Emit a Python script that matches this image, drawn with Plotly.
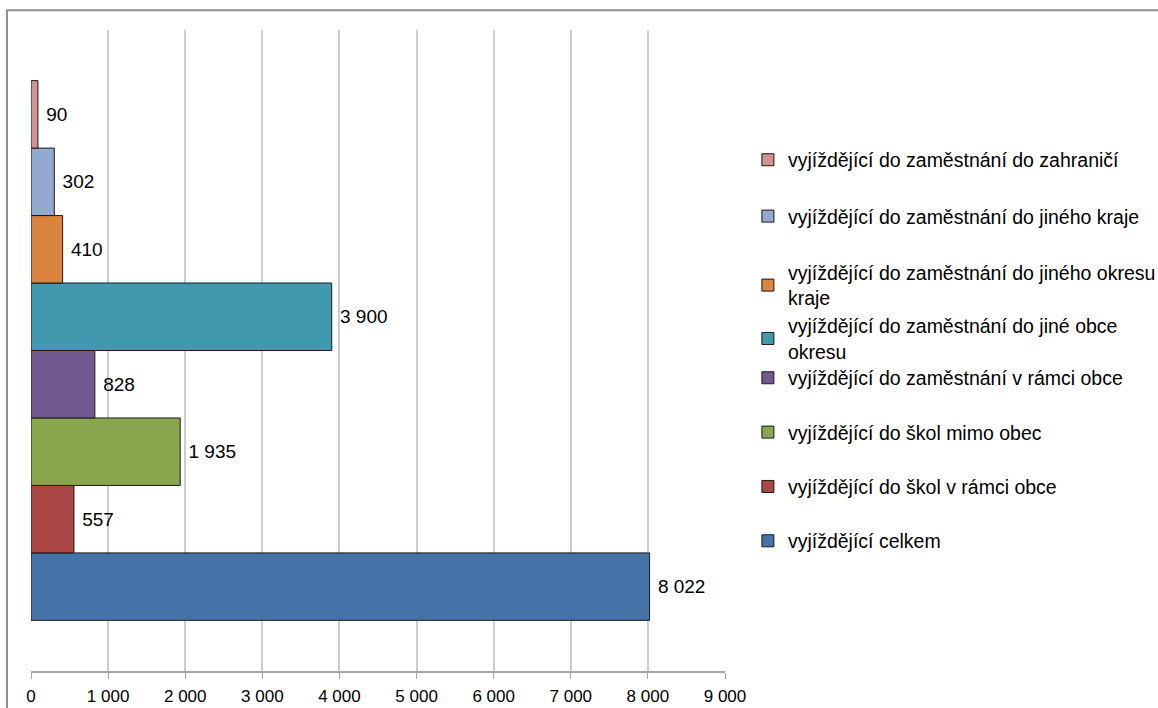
import plotly.graph_objects as go

# poradi odspodu nahoru (jak jdou sloupce v grafu)
series_names = [
    "vyjíždějící celkem",
    "vyjíždějící do škol v rámci obce",
    "vyjíždějící do škol mimo obec",
    "vyjíždějící do zaměstnání v rámci obce",
    "vyjíždějící do zaměstnání do jiné obce<br>okresu",
    "vyjíždějící do zaměstnání do jiného okresu<br>kraje",
    "vyjíždějící do zaměstnání do jiného kraje",
    "vyjíždějící do zaměstnání do zahraničí",
]
series_values = [8022, 557, 1935, 828, 3900, 410, 302, 90]
series_colors = ["#4572A7", "#AA4643", "#89A54E", "#71588F",
                 "#4198AF", "#DB843D", "#93A9CF", "#D19392"]
category = [""]
x_ticks = [0, 1000, 2000, 3000, 4000, 5000, 6000, 7000, 8000, 9000]

# ktera legenda patri ke ktere rade (kvuli rozestupum jako v Excelu)
legend_of = ["legend3", "legend3", "legend3", "legend3",
             "legend2", "legend", "legend", "legend"]

fig = go.Figure()

for i, (name, val, col) in enumerate(zip(series_names, series_values, series_colors)):
    fig.add_trace(go.Bar(
        x=[val],
        y=category,
        orientation='h',
        name=name,
        legend=legend_of[i],
        legendgroup=f"g{i}",
        legendrank=10 * (8 - i),
        marker=dict(color=col, line=dict(color='#1a1a1a', width=1)),
        text=[val],
        texttemplate=' %{x:,}',
        textposition='outside',
        textfont=dict(color='black', size=19),
        cliponaxis=False,
    ))

# ramecek kolem celeho grafu
fig.add_shape(type='rect', xref='paper', yref='paper',
              x0=-0.0346, y0=-0.08, x1=1.66, y1=1.031,
              line=dict(color='#8f8f8f', width=2), fillcolor='rgba(0,0,0,0)')

legend_style = dict(
    x=1.033, xanchor='left', yanchor='top',
    traceorder='grouped',
    font=dict(size=19.5),
    itemwidth=30,
    bgcolor='rgba(0,0,0,0)',
)

fig.update_layout(
    width=1158,
    height=708,
    margin=dict(l=31, r=433, t=30, b=37, autoexpand=False),
    separators=', ',
    barmode='group',
    bargap=0.158,
    bargroupgap=0,
    plot_bgcolor='white',
    paper_bgcolor='white',
    font=dict(family='Liberation Sans, Arial, sans-serif', size=17, color='black'),
    showlegend=True,
    legend=dict(legend_style, y=0.8275, tracegroupgap=28),
    legend2=dict(legend_style, y=0.5685, tracegroupgap=26),
    legend3=dict(legend_style, y=0.4874, tracegroupgap=26),
    xaxis=dict(
        range=[0, 9000],
        tickvals=x_ticks,
        tickformat=',d',
        showgrid=True,
        gridcolor='#cdcdcd',
        gridwidth=1.5,
        showline=True,
        linecolor='#a6a6a6',
        linewidth=1.5,
        ticks='outside',
        ticklen=6,
        tickcolor='#a6a6a6',
        tickfont=dict(size=17),
        ticklabelstandoff=3,
        zeroline=False,
        automargin=False,
        fixedrange=True,
    ),
    yaxis=dict(
        showticklabels=False,
        showgrid=False,
        zeroline=False,
        showline=False,
        automargin=False,
        fixedrange=True,
    ),
)

fig.write_html("out.html", config={'displayModeBar': False},
               post_script="document.body.style.margin='0';")
